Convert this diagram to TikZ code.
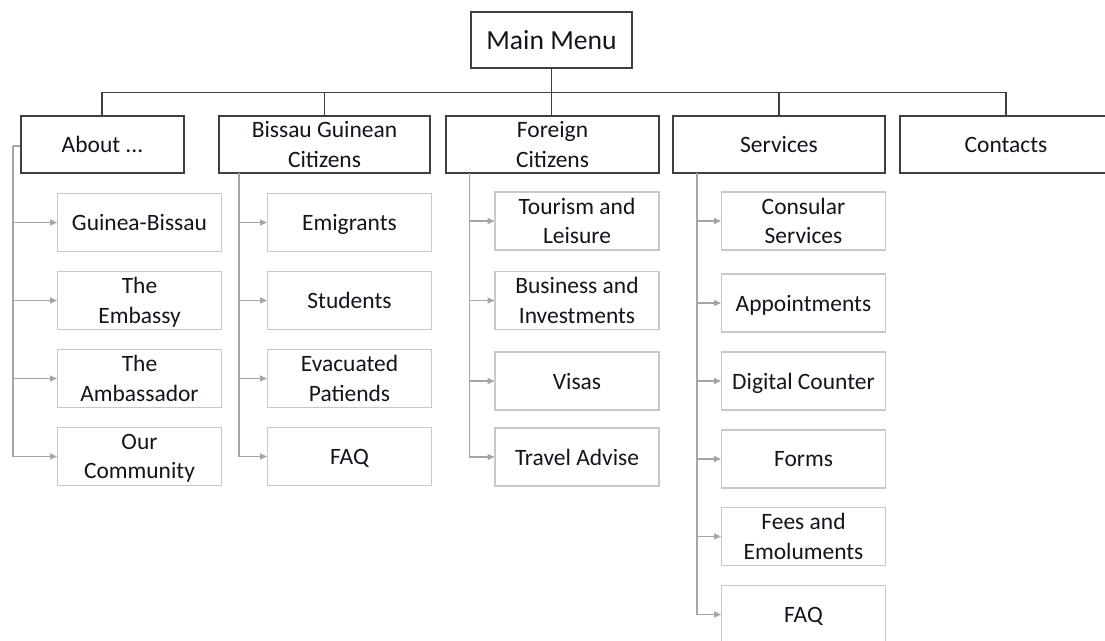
\documentclass[tikz,border=0pt]{standalone}
\usepackage{fontspec}
\setmainfont{Carlito}
\usetikzlibrary{arrows.meta}

\definecolor{boxline}{RGB}{64,64,64}
\definecolor{subline}{RGB}{200,200,200}
\definecolor{railline}{RGB}{165,165,165}
\definecolor{boxtext}{RGB}{20,20,30}

\tikzset{
  mainbox/.style={draw=boxline, line width=1.1pt, fill=white, inner sep=0.75pt, align=center,
    text=boxtext, font=\fontsize{20.7}{25}\selectfont},
  topbox/.style={draw=boxline, line width=1.1pt, fill=white, inner sep=0.75pt, align=center,
    text=boxtext, minimum height=42.75pt, text depth=0pt, font=\fontsize{17.6}{22}\selectfont},
  subbox/.style={draw=subline, line width=0.9pt, fill=white, inner sep=0.75pt, align=center,
    text=boxtext, minimum width=123pt, minimum height=43.5pt, text depth=0pt,
    font=\fontsize{17.6}{22}\selectfont},
  bus/.style={draw=boxline, line width=1pt},
  rail/.style={draw=railline, line width=1pt},
  railarrow/.style={rail, -{Triangle[length=5pt,width=4.5pt]}},
}

\begin{document}
\begin{tikzpicture}[x=0.75pt,y=0.75pt,yscale=-1,xscale=1]
\useasboundingbox (0,0) rectangle (1105,641);

%Main menu
\node[mainbox, minimum width=120.75pt, minimum height=42pt] (main) at (551.5,40) {Main Menu};

%Top level boxes
\node[topbox, minimum width=122.25pt] (about) at (102.5,144.5) {About ...};
\node[topbox, minimum width=158.25pt] (citizens) at (324.5,144.5) {Bissau Guinean\\Citizens};
\node[topbox, minimum width=159.75pt] (foreign) at (552.5,144.5) {Foreign\\Citizens};
\node[topbox, minimum width=159pt] (services) at (779,144.5) {Services};
\node[topbox, minimum width=159pt] (contacts) at (1006,144.5) {Contacts};

%Bus from main menu
\coordinate (busL) at (102,92.5);
\coordinate (busR) at (1006,92.5);
\draw[bus] (busL) -- (busR);
\draw[bus] (main.south) -- (main.south |- foreign.north);
\draw[bus] (busL) -- (busL |- about.north);
\draw[bus] (citizens.north |- busL) -- (citizens.north);
\draw[bus] (services.north |- busL) -- (services.north);
\draw[bus] (busR) -- (contacts.north);

%About ...
\node[subbox] (guinea) at (139.5,222.5) {Guinea-Bissau};
\node[subbox] (embassy) at (139.5,300.5) {The\\Embassy};
\node[subbox] (ambassador) at (139.5,378.5) {The\\Ambassador};
\node[subbox] (community) at (139.5,456.5) {Our\\Community};

\coordinate (aboutrail) at (13,146);
\draw[rail] (about.west |- aboutrail) -- (aboutrail);
\foreach \n in {guinea,embassy,ambassador,community}
  \draw[railarrow] (aboutrail) |- (\n.west);

%Bissau Guinean Citizens
\node[subbox] (emigrants) at (349.5,222.5) {Emigrants};
\node[subbox] (students) at (349.5,300.5) {Students};
\node[subbox] (evacuated) at (349.5,378.5) {Evacuated\\Patiends};
\node[subbox] (citfaq) at (349.5,456.5) {FAQ};

\coordinate (citrail) at (239,173);
\foreach \n in {emigrants,students,evacuated,citfaq}
  \draw[railarrow] (citrail) |- (\n.west);

%Foreign Citizens
\node[subbox] (tourism) at (577,221) {Tourism and\\Leisure};
\node[subbox] (business) at (577,300.5) {Business and\\Investments};
\node[subbox] (visas) at (577,381) {Visas};
\node[subbox] (travel) at (577,457) {Travel Advise};

\coordinate (forrail) at (469.5,173);
\foreach \n in {tourism,business,visas,travel}
  \draw[railarrow] (forrail) |- (\n.west);

%Services
\node[subbox] (consular) at (803.5,221) {Consular\\Services};
\node[subbox] (appoint) at (803.5,303) {Appointments};
\node[subbox] (counter) at (803.5,381) {Digital Counter};
\node[subbox] (forms) at (803.5,459) {Forms};
\node[subbox] (fees) at (803.5,536.5) {Fees and\\Emoluments};
\node[subbox] (servfaq) at (803.5,614.5) {FAQ};

\coordinate (servrail) at (697,173);
\foreach \n in {consular,appoint,counter,forms,fees,servfaq}
  \draw[railarrow] (servrail) |- (\n.west);

\end{tikzpicture}
\end{document}
